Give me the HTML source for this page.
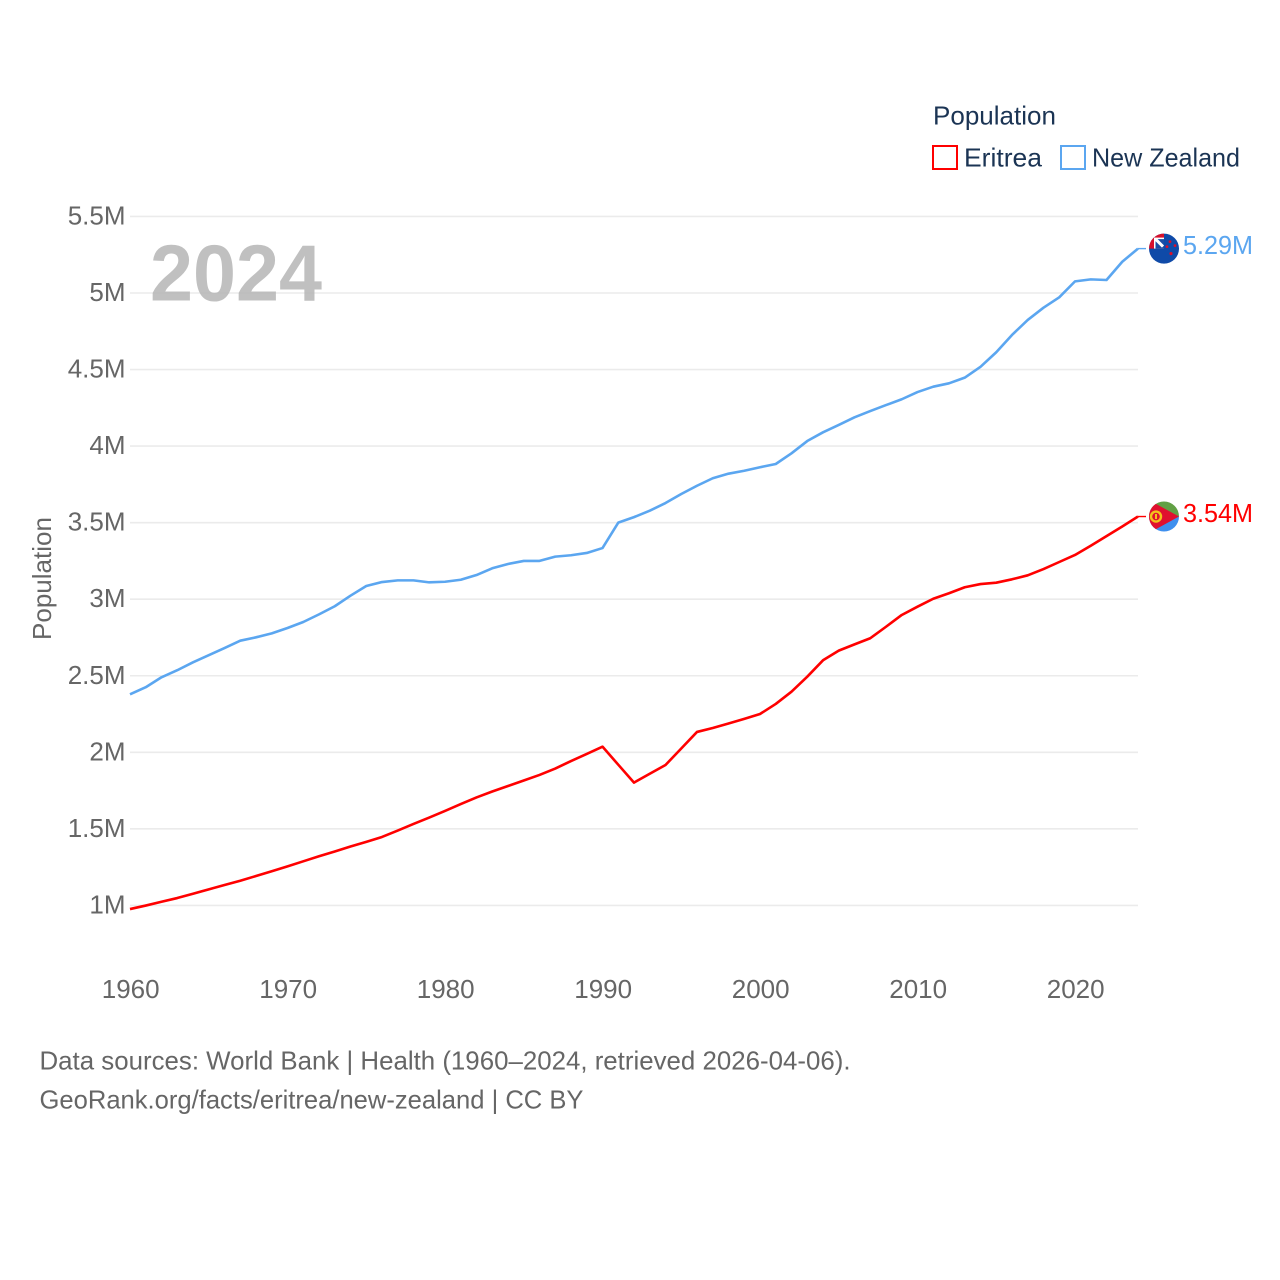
<!DOCTYPE html>
<html lang="en">
<head>
<meta charset="utf-8">
<title>Population: Eritrea and New Zealand</title>
<style>
html,body{margin:0;padding:0;background:#fff;width:1280px;height:1280px;overflow:hidden}
svg{display:block}
text{font-family:"Liberation Sans",sans-serif;font-size:26px}
</style>
</head>
<body>
<svg id="chart" width="1280" height="1280" viewBox="0 0 1280 1280" xmlns="http://www.w3.org/2000/svg">
  <defs>
    <clipPath id="flag-clip"><circle cx="0" cy="0" r="15"></circle></clipPath>
  </defs>
  <rect width="1280" height="1280" fill="#ffffff"></rect>

  <g id="grid"></g>
  <g id="y-ticks"></g>
  <g id="x-ticks"></g>

  <text x="150" y="300.5" textLength="172" lengthAdjust="spacingAndGlyphs" style="font-size:80px;font-weight:bold;opacity:.92" fill="#bbbbbb">2024</text>

  <text transform="translate(51,640) rotate(-90)" textLength="123" lengthAdjust="spacingAndGlyphs" fill="#666666">Population</text>

  <g id="series"></g>

  <g id="flag-nz">
    <g clip-path="url(#flag-clip)">
      <rect x="-16" y="-16" width="32" height="32" fill="#0f4aa8"></rect>
      <rect x="-16" y="-16" width="16" height="16" fill="#d8102c"></rect>
      <rect x="-10" y="-11" width="10" height="11" fill="#ffffff"></rect>
      <rect x="-8.5" y="-9.5" width="8.5" height="9.5" fill="#1a4ea6"></rect>
      <path d="M-9,-10 L-1,-2" stroke="#ffffff" stroke-width="3" fill="none"></path>
      <circle cx="6" cy="-7" r="1.4" fill="#d8102c"></circle>
      <circle cx="11" cy="-3" r="1.4" fill="#d8102c"></circle>
      <circle cx="3" cy="-2" r="1.4" fill="#d8102c"></circle>
      <circle cx="7" cy="5" r="1.6" fill="#d8102c"></circle>
    </g>
  </g>

  <g id="flag-er">
    <g clip-path="url(#flag-clip)">
      <rect x="-16" y="-16" width="32" height="16" fill="#61a044"></rect>
      <rect x="-16" y="0" width="32" height="16" fill="#3e8fee"></rect>
      <path d="M-16,-17 L15,0 L-16,17 Z" fill="#e0102f"></path>
      <circle cx="-8" cy="0" r="5" fill="none" stroke="#f2c21c" stroke-width="2.4"></circle>
      <rect x="-9" y="-2.5" width="2" height="5" fill="#f2c21c"></rect>
    </g>
  </g>

  <g>
    <text x="933" y="124.5" textLength="123" lengthAdjust="spacingAndGlyphs" fill="#1b3454">Population</text>
    <g>
      <rect x="933" y="146" width="24" height="23" fill="#ffffff" stroke="#ff0000" stroke-width="2"></rect>
      <text x="964" y="166.5" textLength="78" lengthAdjust="spacingAndGlyphs" fill="#1b3454">Eritrea</text>
    </g>
    <g>
      <rect x="1061" y="146" width="24" height="23" fill="#ffffff" stroke="#5ba6f0" stroke-width="2"></rect>
      <text x="1092" y="166.5" textLength="148" lengthAdjust="spacingAndGlyphs" fill="#1b3454">New Zealand</text>
    </g>
  </g>

  <g>
    <text x="39.5" y="1069.5" textLength="811" lengthAdjust="spacingAndGlyphs" fill="#666666">Data sources: World Bank | Health (1960–2024, retrieved 2026-04-06).</text>
    <text x="39.5" y="1108.5" textLength="544" lengthAdjust="spacingAndGlyphs" fill="#666666">GeoRank.org/facts/eritrea/new-zealand | CC BY</text>
  </g>
</svg>
<script>
const startYear = 1960;
const xTickYears = [1960, 1970, 1980, 1990, 2000, 2010, 2020];
const yTickValues = [1, 1.5, 2, 2.5, 3, 3.5, 4, 4.5, 5, 5.5];
const eritreaValues = [
  0.976, 0.999, 1.024, 1.048, 1.076, 1.105, 1.133, 1.161, 1.192, 1.223,
  1.255, 1.288, 1.321, 1.352, 1.385, 1.415, 1.447, 1.489, 1.532, 1.574,
  1.617, 1.662, 1.705, 1.744, 1.780, 1.816, 1.852, 1.894, 1.943, 1.989,
  2.037, 1.919, 1.802, 1.860, 1.917, 2.025, 2.133, 2.159, 2.188, 2.218,
  2.250, 2.316, 2.396, 2.494, 2.601, 2.664, 2.705, 2.745, 2.820, 2.897,
  2.951, 3.003, 3.039, 3.078, 3.099, 3.108, 3.130, 3.156, 3.197, 3.243,
  3.289, 3.349, 3.412, 3.475, 3.540
];
const newZealandValues = [
  2.379, 2.425, 2.490, 2.536, 2.588, 2.634, 2.681, 2.729, 2.751, 2.777,
  2.812, 2.851, 2.901, 2.954, 3.023, 3.086, 3.112, 3.123, 3.123, 3.110,
  3.114, 3.127, 3.158, 3.202, 3.230, 3.250, 3.250, 3.278, 3.287, 3.302,
  3.334, 3.500, 3.536, 3.578, 3.628, 3.687, 3.741, 3.790, 3.820, 3.839,
  3.862, 3.883, 3.953, 4.033, 4.090, 4.138, 4.188, 4.229, 4.268, 4.306,
  4.353, 4.388, 4.410, 4.447, 4.518, 4.613, 4.726, 4.824, 4.904, 4.972,
  5.076, 5.089, 5.085, 5.204, 5.290
];

const NS = 'http://www.w3.org/2000/svg';
function xScale(year) { return 130 + (year - 1960) * 15.75; }
function yScale(value) { return 905.4 - (value - 1) * 153.1; }
function make(tag, parent, attrs, content) {
  const el = document.createElementNS(NS, tag);
  for (const k in attrs) el.setAttribute(k, attrs[k]);
  if (content !== undefined) el.textContent = content;
  parent.appendChild(el);
  return el;
}

const gridGroup = document.getElementById('grid');
const yTickGroup = document.getElementById('y-ticks');
const xTickGroup = document.getElementById('x-ticks');
const seriesGroup = document.getElementById('series');

yTickValues.forEach(function (v) {
  const line = make('line', gridGroup, { x1: 130, x2: 1138, y1: yScale(v), y2: yScale(v), stroke: '#ebebeb', 'stroke-width': 1.6 });
  
  
  const label = make('text', yTickGroup, { x: 125.5, y: yScale(v) + 8, 'text-anchor': 'end', fill: '#666666' }, v + 'M');
  
  
});

xTickYears.forEach(function (yr) {
  const label = make('text', xTickGroup, { x: xScale(yr) + 0.7, y: 998, 'text-anchor': 'middle', fill: '#666666' }, String(yr));
  
  
});

function linePoints(values) {
  return values.map(function (v, i) {
    return xScale(startYear + i).toFixed(2) + ',' + yScale(v).toFixed(2);
  }).join(' ');
}

const lastYear = startYear + eritreaValues.length - 1;
const lastX = xScale(lastYear);

const nzLine = make('polyline', seriesGroup, { points: linePoints(newZealandValues), fill: 'none', stroke: '#5ba6f0', 'stroke-width': 2.6, 'stroke-linejoin': 'round' });



const erLine = make('polyline', seriesGroup, { points: linePoints(eritreaValues), fill: 'none', stroke: '#ff0000', 'stroke-width': 2.6, 'stroke-linejoin': 'round' });



const nzLast = newZealandValues[newZealandValues.length - 1];
const erLast = eritreaValues[eritreaValues.length - 1];

const nzConnector = make('line', seriesGroup, { x1: lastX, x2: lastX + 8, y1: yScale(nzLast), y2: yScale(nzLast), stroke: '#5ba6f0', 'stroke-width': 1.4 });



const erConnector = make('line', seriesGroup, { x1: lastX, x2: lastX + 8, y1: yScale(erLast), y2: yScale(erLast), stroke: '#ff0000', 'stroke-width': 1.4 });



document.getElementById('flag-nz').setAttribute('transform', 'translate(' + (lastX + 26) + ',' + yScale(nzLast) + ')');
document.getElementById('flag-er').setAttribute('transform', 'translate(' + (lastX + 26) + ',' + yScale(erLast) + ')');

const nzValueLabel = make('text', seriesGroup, { x: lastX + 45, y: yScale(nzLast) + 5.6, fill: '#5ba6f0', textLength: 70, lengthAdjust: 'spacingAndGlyphs' }, nzLast.toFixed(2) + 'M');



const erValueLabel = make('text', seriesGroup, { x: lastX + 45, y: yScale(erLast) + 5.6, fill: '#ff0000', textLength: 70, lengthAdjust: 'spacingAndGlyphs' }, erLast.toFixed(2) + 'M');


</script>
</body>
</html>
